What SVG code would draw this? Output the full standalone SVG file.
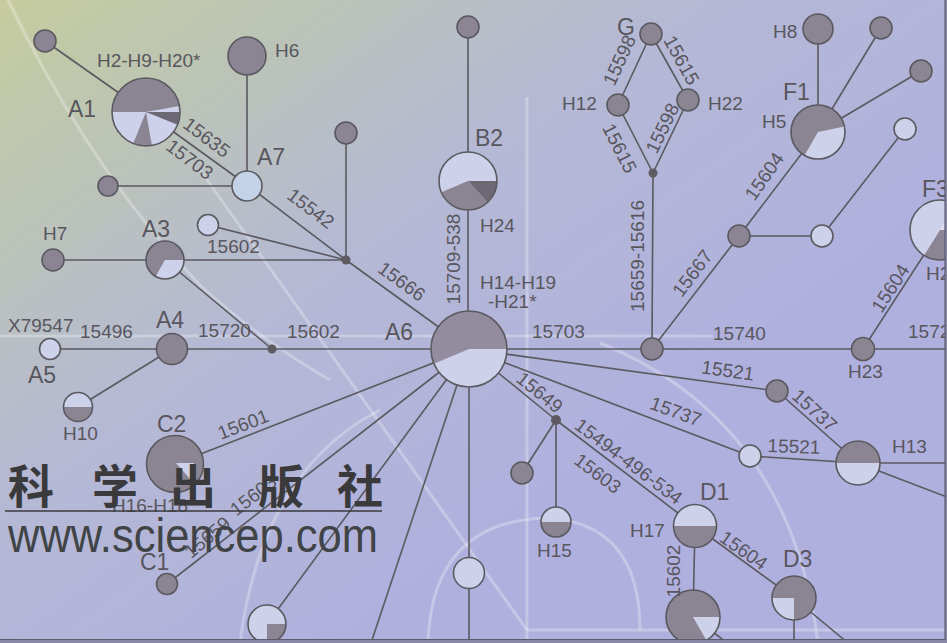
<svg xmlns="http://www.w3.org/2000/svg" width="947" height="643" viewBox="0 0 947 643">
<defs>
<linearGradient id="bg" x1="0" y1="0" x2="0.7" y2="0.65">
<stop offset="0" stop-color="#c6cc9e"/>
<stop offset="0.25" stop-color="#bcc4b6"/>
<stop offset="0.55" stop-color="#b5b9d4"/>
<stop offset="1" stop-color="#b0b0de"/>
</linearGradient>
<style>
.c{stroke:#5b5960;stroke-width:1.6;}
.g{fill:#8b8593;}
.l{fill:#cdd1ea;}
.d{fill:#6c6874;}
.o{fill:none;stroke:#5b5960;stroke-width:1.6;}
.j{fill:#5e5a62;}
.t{font-family:"Liberation Sans",Arial,sans-serif;font-size:19px;fill:#58565e;}
.b{font-family:"Liberation Sans",Arial,sans-serif;font-size:23px;fill:#58565e;}
.r{text-anchor:middle;}
.deco{fill:none;stroke:#ffffff;stroke-opacity:0.28;stroke-width:3;}
.wm{font-family:"Noto Sans CJK SC",sans-serif;font-weight:700;font-size:46px;fill:#3a3a3c;text-anchor:middle;}
</style>
</defs>
<rect x="0" y="0" width="947" height="643" fill="url(#bg)"/>
<g id="background-decoration">
<path class="deco" d="M0 336 H440 M505 336 H713"/>
<path class="deco" d="M527 97 V643"/>
<path class="deco" d="M527 630 H945"/>
<path class="deco" d="M600 343 Q790 420 818 643"/>
<path class="deco" d="M428 643 Q432 522 545 518 Q640 522 640 630"/>
<path class="deco" d="M240 643 Q262 470 380 410"/>
<path class="deco" d="M200 170 L527 630"/>
<path class="deco" d="M8 0 Q90 170 200 285 Q260 340 330 380"/>
</g>
<g id="connectors" class="c">
<line x1="45" y1="41" x2="146" y2="112"/>
<line x1="146" y1="112" x2="247" y2="185"/>
<line x1="247" y1="56" x2="247" y2="185"/>
<line x1="108" y1="186" x2="247" y2="186"/>
<line x1="247" y1="185" x2="346" y2="260"/>
<line x1="208" y1="225" x2="346" y2="260"/>
<line x1="346" y1="133" x2="346" y2="260"/>
<line x1="53" y1="260" x2="346" y2="260"/>
<line x1="165" y1="260" x2="272" y2="349"/>
<line x1="50" y1="349" x2="469" y2="349"/>
<line x1="78" y1="407" x2="172" y2="349"/>
<line x1="346" y1="260" x2="469" y2="349"/>
<line x1="175" y1="464" x2="469" y2="349"/>
<line x1="167" y1="584" x2="469" y2="349"/>
<line x1="267" y1="624" x2="469" y2="349"/>
<line x1="469" y1="349" x2="371" y2="643"/>
<line x1="469" y1="349" x2="469" y2="643"/>
<line x1="468" y1="27" x2="468" y2="349"/>
<line x1="469" y1="349" x2="947" y2="349"/>
<line x1="469" y1="349" x2="777" y2="391"/>
<line x1="777" y1="391" x2="858" y2="463"/>
<line x1="469" y1="349" x2="750" y2="456"/>
<line x1="750" y1="456" x2="858" y2="463"/>
<line x1="858" y1="463" x2="947" y2="463"/>
<line x1="858" y1="463" x2="947" y2="497"/>
<line x1="469" y1="349" x2="556" y2="420"/>
<line x1="556" y1="420" x2="522" y2="473"/>
<line x1="556" y1="420" x2="556" y2="522"/>
<line x1="556" y1="420" x2="695" y2="526"/>
<line x1="695" y1="526" x2="693" y2="617"/>
<line x1="695" y1="526" x2="794" y2="598"/>
<line x1="794" y1="598" x2="794" y2="643"/>
<line x1="794" y1="598" x2="848" y2="643"/>
<line x1="693" y1="617" x2="730" y2="645"/>
<line x1="651" y1="34" x2="618" y2="105"/>
<line x1="651" y1="34" x2="688" y2="100"/>
<line x1="618" y1="105" x2="653" y2="173"/>
<line x1="688" y1="100" x2="653" y2="173"/>
<line x1="653" y1="173" x2="652" y2="349"/>
<line x1="652" y1="349" x2="739" y2="236"/>
<line x1="739" y1="236" x2="818" y2="132"/>
<line x1="739" y1="236" x2="822" y2="236"/>
<line x1="822" y1="236" x2="905" y2="129"/>
<line x1="818" y1="132" x2="818" y2="29"/>
<line x1="818" y1="132" x2="881" y2="28"/>
<line x1="818" y1="132" x2="921" y2="71"/>
<line x1="863" y1="349" x2="940" y2="230"/>
</g>
<g id="n-tl"><circle class="g" cx="45" cy="41" r="11"/><circle class="o" cx="45" cy="41" r="11"/></g>
<g id="A1">
<circle class="l" cx="146" cy="112" r="34"/>
<path class="g" d="M146 112 L112 112 A34 34 0 0 1 179.48 106.10 Z"/>
<path class="d" d="M146 112 L180 112 A34 34 0 0 1 177.52 124.74 Z"/>
<path class="g" d="M146 112 L151.90 145.48 A34 34 0 0 1 133.26 143.52 Z"/>
<circle class="o" cx="146" cy="112" r="34"/>
</g>
<g id="H6"><circle class="g" cx="247" cy="56" r="19"/><circle class="o" cx="247" cy="56" r="19"/></g>
<g id="n-a7l"><circle class="g" cx="108" cy="186" r="10"/><circle class="o" cx="108" cy="186" r="10"/></g>
<g id="A7"><circle cx="247" cy="186" r="15" fill="#c4d2e8"/><circle class="o" cx="247" cy="186" r="15"/></g>
<g id="n-top1"><circle class="g" cx="346" cy="133" r="11"/><circle class="o" cx="346" cy="133" r="11"/></g>
<g id="n-l1"><circle class="l" cx="208" cy="225" r="10.5"/><circle class="o" cx="208" cy="225" r="10.5"/></g>
<g id="J1"><circle class="j" cx="346" cy="260" r="4.5"/></g>
<g id="H7"><circle class="g" cx="53" cy="260" r="11"/><circle class="o" cx="53" cy="260" r="11"/></g>
<g id="A3">
<circle class="g" cx="165" cy="260" r="19"/>
<path class="l" d="M165 260 L184 260 A19 19 0 0 1 155.5 276.45 Z"/>
<circle class="o" cx="165" cy="260" r="19"/>
</g>
<g id="A5"><circle class="l" cx="50" cy="349" r="10.5"/><circle class="o" cx="50" cy="349" r="10.5"/></g>
<g id="A4"><circle class="g" cx="172" cy="349" r="15.5"/><circle class="o" cx="172" cy="349" r="15.5"/></g>
<g id="J2"><circle class="j" cx="272" cy="349" r="4.5"/></g>
<g id="H10">
<circle class="l" cx="78" cy="407" r="14.5"/>
<path class="g" d="M63.5 407 A14.5 14.5 0 0 0 92.5 407 Z"/>
<circle class="o" cx="78" cy="407" r="14.5"/>
</g>
<g id="C2">
<circle class="g" cx="175" cy="464" r="28.5"/>
<polygon class="l" points="176,463 194,463 192,481"/>
<circle class="o" cx="175" cy="464" r="28.5"/>
</g>
<g id="C1"><circle class="g" cx="167" cy="584" r="10.5"/><circle class="o" cx="167" cy="584" r="10.5"/></g>
<g id="n-bl">
<circle class="l" cx="267" cy="624" r="19"/>
<path class="g" d="M267 624 L286 624 A19 19 0 0 1 267 643 Z"/>
<circle class="o" cx="267" cy="624" r="19"/>
</g>
<g id="A6">
<circle cx="469" cy="349" r="38" fill="#928c9e"/>
<path class="l" d="M469 349 L507 349 A38 38 0 0 1 433.88 363.85 Z"/>
<circle class="o" cx="469" cy="349" r="38"/>
</g>
<g id="n-b-top"><circle class="g" cx="468" cy="27" r="11"/><circle class="o" cx="468" cy="27" r="11"/></g>
<g id="B2">
<circle class="l" cx="468" cy="181" r="29"/>
<path class="d" d="M468 181 L497 181 A29 29 0 0 1 487.40 202.55 Z"/>
<path class="g" d="M468 181 L487.40 202.55 A29 29 0 0 1 441.31 192.33 Z"/>
<circle class="o" cx="468" cy="181" r="29"/>
</g>
<g id="n-bottom"><circle class="l" cx="469" cy="573" r="15.5"/><circle class="o" cx="469" cy="573" r="15.5"/></g>
<g id="J3"><circle class="j" cx="556" cy="420" r="5"/></g>
<g id="n-j3"><circle class="g" cx="522" cy="473" r="11"/><circle class="o" cx="522" cy="473" r="11"/></g>
<g id="H15">
<circle class="l" cx="556" cy="522" r="15"/>
<path class="g" d="M541 522 A15 15 0 0 0 571 522 Z"/>
<circle class="o" cx="556" cy="522" r="15"/>
</g>
<g id="D1">
<circle class="l" cx="695" cy="526" r="21.5"/>
<path class="g" d="M673.5 526 A21.5 21.5 0 0 0 716.5 526 Z"/>
<circle class="o" cx="695" cy="526" r="21.5"/>
</g>
<g id="D2">
<circle class="g" cx="693" cy="617" r="27"/>
<path class="l" d="M693 617 L720 617 A27 27 0 0 1 706.5 640.38 Z"/>
<circle class="o" cx="693" cy="617" r="27"/>
</g>
<g id="D3">
<circle class="g" cx="794" cy="598" r="22"/>
<path class="l" d="M794 598 L794 620 A22 22 0 0 1 772 598 Z"/>
<circle class="o" cx="794" cy="598" r="22"/>
</g>
<g id="n-r1"><circle class="g" cx="777" cy="391" r="11"/><circle class="o" cx="777" cy="391" r="11"/></g>
<g id="n-r2"><circle class="l" cx="750" cy="456" r="11"/><circle class="o" cx="750" cy="456" r="11"/></g>
<g id="H13">
<circle class="l" cx="858" cy="463" r="22"/>
<path class="g" d="M836 463 A22 22 0 0 1 880 463 Z"/>
<circle class="o" cx="858" cy="463" r="22"/>
</g>
<g id="G"><circle class="g" cx="651" cy="34" r="11"/><circle class="o" cx="651" cy="34" r="11"/></g>
<g id="H12"><circle class="g" cx="618" cy="105" r="11"/><circle class="o" cx="618" cy="105" r="11"/></g>
<g id="H22"><circle class="g" cx="688" cy="100" r="11"/><circle class="o" cx="688" cy="100" r="11"/></g>
<g id="J4"><circle class="j" cx="653" cy="173" r="4.5"/></g>
<g id="n-m1"><circle class="g" cx="652" cy="349" r="11"/><circle class="o" cx="652" cy="349" r="11"/></g>
<g id="n-m2"><circle class="g" cx="739" cy="236" r="11"/><circle class="o" cx="739" cy="236" r="11"/></g>
<g id="n-m3"><circle class="l" cx="822" cy="236" r="11"/><circle class="o" cx="822" cy="236" r="11"/></g>
<g id="n-m4"><circle class="l" cx="905" cy="129" r="11"/><circle class="o" cx="905" cy="129" r="11"/></g>
<g id="F1">
<circle class="g" cx="818" cy="132" r="27"/>
<path class="l" d="M818 132 L844.41 126.39 A27 27 0 0 1 804.5 155.38 Z"/>
<circle class="o" cx="818" cy="132" r="27"/>
</g>
<g id="H8"><circle class="g" cx="818" cy="29" r="15"/><circle class="o" cx="818" cy="29" r="15"/></g>
<g id="n-f1a"><circle class="g" cx="881" cy="28" r="11"/><circle class="o" cx="881" cy="28" r="11"/></g>
<g id="n-f1b"><circle class="g" cx="921" cy="71" r="11"/><circle class="o" cx="921" cy="71" r="11"/></g>
<g id="F3">
<circle class="l" cx="940" cy="230" r="30"/>
<path d="M940 230 L955 204.02 A30 30 0 0 1 970 230 Z" fill="#dcdcf0"/>
<path class="g" d="M940 230 L970 230 A30 30 0 0 1 924.1 255.44 Z"/>
<circle class="o" cx="940" cy="230" r="30"/>
</g>
<g id="H23"><circle class="g" cx="863" cy="349" r="11.5"/><circle class="o" cx="863" cy="349" r="11.5"/></g>
<g id="labels">
<text class="t" x="97" y="67">H2-H9-H20*</text>
<text class="b" x="68" y="117">A1</text>
<text class="t" x="275" y="57">H6</text>
<text class="b" x="257" y="165">A7</text>
<text class="t" x="207" y="253">15602</text>
<text class="t" x="43" y="240">H7</text>
<text class="b" x="142" y="237">A3</text>
<text class="t" x="8" y="332">X79547</text>
<text class="t" x="80" y="338">15496</text>
<text class="b" x="156" y="328">A4</text>
<text class="t" x="198" y="337">15720</text>
<text class="t" x="287" y="338">15602</text>
<text class="b" x="28" y="383">A5</text>
<text class="t" x="63" y="440">H10</text>
<text class="b" x="157" y="432">C2</text>
<text class="t" x="112" y="512">H16-H18*</text>
<text class="b" x="140" y="570">C1</text>
<text class="b" x="385" y="340">A6</text>
<text class="t" x="480" y="232">H24</text>
<text class="t" x="480" y="289">H14-H19</text>
<text class="t" x="488" y="308">-H21*</text>
<text class="t" x="532" y="338">15703</text>
<text class="b" x="475" y="146">B2</text>
<text class="b" x="617" y="35">G</text>
<text class="t" x="562" y="110">H12</text>
<text class="t" x="708" y="110">H22</text>
<text class="b" x="783" y="100">F1</text>
<text class="t" x="762" y="128">H5</text>
<text class="t" x="773" y="38">H8</text>
<text class="t" x="713" y="340">15740</text>
<text class="b" x="922" y="197">F3</text>
<text class="t" x="926" y="280">H2</text>
<text class="t" x="908" y="338">1572</text>
<text class="t" x="848" y="378">H23</text>
<text class="t" x="892" y="453">H13</text>
<text class="t" x="537" y="557">H15</text>
<text class="b" x="700" y="500">D1</text>
<text class="t" x="630" y="537">H17</text>
<text class="b" x="783" y="567">D3</text>
<text class="t r" transform="translate(207,137) rotate(37)" y="7">15635</text>
<text class="t r" transform="translate(190,159) rotate(37)" y="7">15703</text>
<text class="t r" transform="translate(311,208) rotate(37)" y="7">15542</text>
<text class="t r" transform="translate(402,281) rotate(36)" y="7">15666</text>
<text class="t r" transform="translate(243,424) rotate(-21)" y="7">15601</text>
<text class="t r" transform="translate(207,537) rotate(-40)" y="7">15659</text>
<text class="t r" transform="translate(253,495) rotate(-38)" y="7">15603</text>
<text class="t r" transform="translate(453,259) rotate(-90)" y="7">15709-538</text>
<text class="t r" transform="translate(540,392) rotate(39)" y="7">15649</text>
<text class="t r" transform="translate(629,461) rotate(37)" y="7">15494-496-534</text>
<text class="t r" transform="translate(598,473) rotate(37)" y="7">15603</text>
<text class="t r" transform="translate(619,60) rotate(-65)" y="7">15598</text>
<text class="t r" transform="translate(682,60) rotate(61)" y="7">15615</text>
<text class="t r" transform="translate(620,148) rotate(63)" y="7">15615</text>
<text class="t r" transform="translate(662,128) rotate(-64)" y="7">15598</text>
<text class="t r" transform="translate(637,256) rotate(-90)" y="7">15659-15616</text>
<text class="t r" transform="translate(764,176) rotate(-55)" y="7">15604</text>
<text class="t r" transform="translate(692,273) rotate(-53)" y="7">15667</text>
<text class="t r" transform="translate(890,288) rotate(-57)" y="7">15604</text>
<text class="t r" transform="translate(728,370) rotate(8)" y="7">15521</text>
<text class="t r" transform="translate(815,410) rotate(42)" y="7">15737</text>
<text class="t r" transform="translate(676,411) rotate(20)" y="7">15737</text>
<text class="t r" transform="translate(794,446) rotate(2)" y="7">15521</text>
<text class="t r" transform="translate(673,571) rotate(-90)" y="7">15602</text>
<text class="t r" transform="translate(744,550) rotate(35)" y="7">15604</text>
</g>
<g id="watermark">
<text class="wm" x="31" y="503">科</text>
<text class="wm" x="115" y="503">学</text>
<text class="wm" x="193" y="503">出</text>
<text class="wm" x="281" y="503">版</text>
<text class="wm" x="360" y="503">社</text>
<line x1="5" y1="511" x2="382" y2="511" stroke="#3a3a3c" stroke-width="1.5"/>
<text x="8" y="552" font-family="'Liberation Sans',Arial,sans-serif" font-size="48" fill="#404446" textLength="370" lengthAdjust="spacingAndGlyphs">www.sciencep.com</text>
</g>
<g id="frame">
<rect x="945" y="0" width="2" height="643" fill="#8a8aa8"/>
<rect x="0" y="640" width="947" height="3" fill="#8a8aa8"/>
<line x1="945" y1="0" x2="945" y2="640" stroke="#5c5c70" stroke-width="1.2"/>
<line x1="0" y1="639.5" x2="945" y2="639.5" stroke="#5c5c70" stroke-width="1.2"/>
</g>
</svg>
